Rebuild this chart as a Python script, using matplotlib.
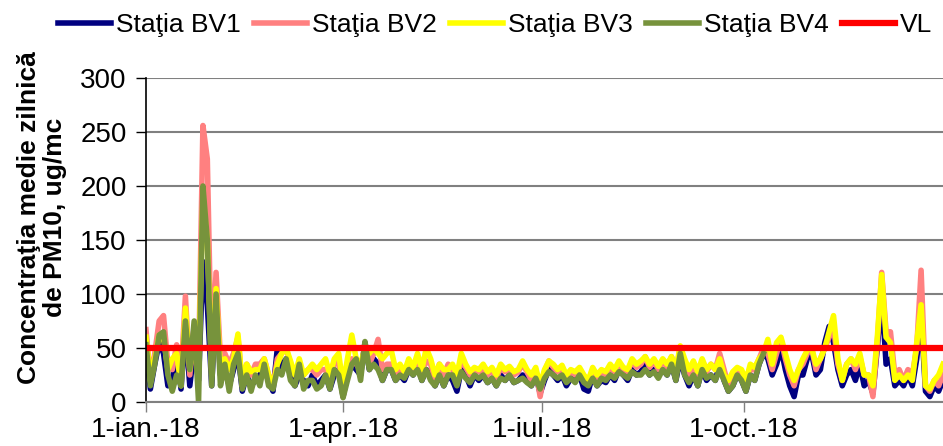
import numpy as np
import matplotlib
matplotlib.use("Agg")
import matplotlib.pyplot as plt

plt.rcParams['font.family'] = ['Liberation Sans', 'DejaVu Sans']

# daily means read every 2 days, starting 1 Jan 2018
start = np.datetime64('2018-01-01')
days = np.arange(0, 365, 2)

bv1 = [50, 12, 35, 55, 45, 15, 20, 45, 12, 70, 15, 50, 20, 130, 90,
       15, 95, 25, 30, 15, 30, 45, 10, 25, 15, 20, 25, 35, 20, 10,
       50, 30, 40, 25, 15, 25, 20, 15, 25, 15, 20, 25, 12, 25, 30,
       5, 25, 35, 30, 25, 55, 30, 40, 35, 20, 30, 30, 20, 25, 20,
       30, 25, 35, 20, 30, 25, 15, 25, 15, 25, 20, 10, 30, 25, 15,
       25, 20, 25, 18, 22, 15, 25, 20, 25, 18, 20, 25, 20, 15, 25,
       8, 20, 30, 25, 20, 25, 15, 22, 20, 25, 12, 10, 25, 15, 20,
       18, 25, 20, 30, 25, 20, 30, 25, 28, 35, 25, 30, 25, 30, 25,
       35, 20, 40, 25, 15, 25, 15, 30, 20, 25, 20, 35, 20, 10, 15,
       25, 20, 10, 25, 20, 35, 45, 40, 25, 35, 50, 30, 15, 5, 25,
       25, 40, 45, 25, 30, 55, 70, 55, 30, 15, 25, 30, 20, 35, 15,
       20, 8, 50, 100, 35, 40, 15, 20, 15, 25, 15, 40, 80, 10, 5,
       15, 10, 20]

bv2 = [67, 20, 45, 75, 80, 35, 30, 53, 25, 98, 25, 70, 30, 256, 225,
       30, 120, 40, 45, 35, 45, 60, 15, 35, 25, 35, 35, 40, 25, 15,
       40, 45, 50, 35, 25, 35, 25, 30, 30, 25, 30, 30, 20, 35, 40,
       5, 30, 40, 35, 30, 52, 35, 45, 58, 30, 35, 35, 25, 30, 25,
       35, 30, 40, 28, 38, 35, 20, 35, 25, 35, 30, 20, 40, 32, 25,
       30, 28, 30, 25, 30, 22, 32, 28, 30, 25, 28, 35, 28, 20, 30,
       5, 28, 38, 32, 28, 30, 20, 28, 25, 30, 20, 18, 30, 22, 28,
       25, 32, 28, 35, 30, 28, 38, 32, 35, 42, 32, 38, 30, 38, 32,
       42, 28, 50, 35, 25, 35, 22, 38, 28, 35, 30, 45, 30, 15, 25,
       30, 28, 15, 30, 30, 40, 50, 45, 30, 45, 58, 40, 25, 15, 30,
       35, 45, 50, 30, 40, 50, 60, 70, 35, 20, 35, 40, 30, 42, 25,
       25, 5, 55, 120, 65, 65, 25, 30, 20, 30, 25, 50, 122, 15, 10,
       20, 15, 25]

bv3 = [60, 25, 40, 62, 60, 30, 40, 45, 15, 87, 30, 60, 30, 190, 150,
       25, 105, 30, 40, 30, 40, 63, 15, 35, 28, 30, 30, 40, 25, 15,
       35, 45, 50, 38, 25, 40, 25, 30, 35, 30, 35, 40, 25, 40, 45,
       15, 40, 62, 40, 35, 50, 45, 50, 45, 40, 45, 48, 30, 35, 28,
       40, 32, 45, 30, 50, 40, 25, 35, 30, 30, 35, 25, 45, 35, 28,
       32, 30, 35, 28, 32, 25, 35, 30, 33, 28, 30, 38, 30, 25, 32,
       15, 30, 38, 35, 30, 34, 25, 30, 28, 32, 25, 20, 32, 25, 30,
       28, 35, 30, 38, 32, 30, 40, 35, 38, 42, 35, 40, 33, 40, 35,
       42, 30, 52, 40, 30, 38, 28, 40, 30, 35, 30, 40, 25, 20, 28,
       32, 30, 20, 35, 32, 40, 45, 58, 35, 55, 60, 45, 30, 20, 30,
       40, 48, 50, 35, 40, 50, 65, 80, 40, 20, 35, 40, 35, 45, 25,
       25, 15, 60, 118, 60, 55, 20, 25, 20, 25, 20, 55, 90, 15, 12,
       20, 25, 35]

# BV4 stops reporting in mid-October
bv4 = [53, 15, 35, 62, 65, 25, 10, 25, 15, 75, 30, 75, 0, 200, 150,
       15, 100, 15, 35, 10, 35, 45, 12, 25, 10, 25, 15, 35, 15, 12,
       30, 25, 40, 20, 15, 35, 12, 20, 20, 12, 15, 25, 12, 30, 25,
       4, 20, 35, 40, 20, 56, 30, 35, 30, 20, 30, 30, 20, 25, 22,
       30, 25, 30, 20, 30, 20, 15, 25, 15, 25, 25, 15, 28, 22, 18,
       25, 22, 25, 18, 22, 15, 22, 20, 25, 18, 20, 22, 18, 15, 22,
       12, 22, 28, 25, 22, 25, 18, 22, 18, 25, 18, 15, 22, 15, 22,
       20, 25, 22, 28, 25, 22, 28, 25, 25, 30, 25, 28, 22, 30, 25,
       35, 20, 45, 25, 18, 25, 15, 30, 22, 25, 20, 30, 20, 10, 15,
       25, 20, 10, 25, 20, 35, 45]

vl = 50

tick_dates = ['2018-01-01', '2018-04-01', '2018-07-01', '2018-10-01']
tick_labels = ['1-ian.-18', '1-apr.-18', '1-iul.-18', '1-oct.-18']

dates = start + days.astype('timedelta64[D]')
end = start + np.timedelta64(364, 'D')

fig = plt.figure(figsize=(9.43, 4.46), dpi=100)
ax = fig.add_axes([146 / 943, 44 / 446, 1 - 146 / 943, 324 / 446])

ax.plot(dates, bv1, color='#000080', lw=4, label='Staţia BV1')
ax.plot(dates, bv2, color='#FF8080', lw=4, label='Staţia BV2')
ax.plot(dates, bv3, color='#FFFF00', lw=4, label='Staţia BV3')
ax.plot(dates[:len(bv4)], bv4, color='#77933C', lw=4, label='Staţia BV4')
ax.plot([start, end], [vl, vl], color='#FF0000', lw=4.5, label='VL')

ax.set_xlim(start, end)
ax.set_ylim(0, 300)
ax.set_yticks(np.arange(0, 301, 50))
ax.set_xticks([np.datetime64(d) for d in tick_dates])
ax.set_xticklabels(tick_labels)
ax.tick_params(axis='both', labelsize=20, length=7, width=1)
ax.tick_params(axis='y', pad=7)
ax.tick_params(axis='x', colors='#808080', labelcolor='black', pad=4)

ax.grid(axis='y', color='#808080', lw=1.5)
ax.set_axisbelow(True)
for s in ['top', 'right']:
    ax.spines[s].set_visible(False)
ax.spines['bottom'].set_color('#808080')
ax.spines['bottom'].set_linewidth(1.5)
ax.spines['left'].set_linewidth(1.2)

ax.set_ylabel('Concentraţia medie zilnică\nde PM10, ug/mc', fontsize=19,
              fontweight='bold', va='center', linespacing=1.1)
ax.yaxis.set_label_coords(-0.131, 0.57)

fig.legend(loc='center', bbox_to_anchor=(0.525, 0.944), ncol=5,
           frameon=False, fontsize=19, handlelength=2.0, handletextpad=0.2,
           columnspacing=0.5, borderpad=0)

fig.savefig('out.png', dpi=100)
